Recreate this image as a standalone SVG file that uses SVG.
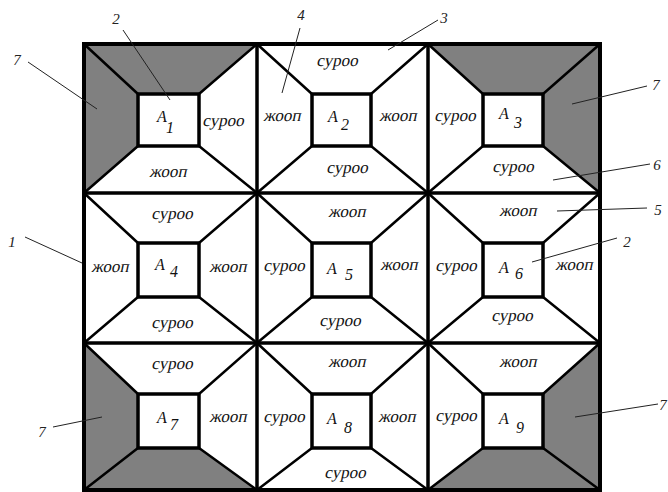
<svg xmlns="http://www.w3.org/2000/svg" width="668" height="492" viewBox="0 0 668 492">
<style>
.g{fill:#808080;stroke:none}
.d{stroke:#000;stroke-width:2.5;fill:none}
.sq{fill:#fff;stroke:#000;stroke-width:3.5}
.grid{stroke:#000;stroke-width:3.5;fill:none}
.out{stroke:#000;stroke-width:4;fill:none}
.lead{stroke:#222;stroke-width:1;fill:none}
.w{font-family:'Liberation Serif','DejaVu Serif',serif;font-size:17px;text-anchor:middle;fill:#111}
.a{font-family:'Liberation Serif','DejaVu Serif',serif;font-style:italic;font-size:16px;fill:#111}
.n{font-family:'Liberation Serif','DejaVu Serif',serif;font-style:italic;font-size:15px;text-anchor:middle;fill:#222}
</style>
<rect width="668" height="492" fill="#fff"/>

<g id="cell1">
<polygon class="g" points="84,44 257,44 199,94 138,94"/>
<polygon class="g" points="84,44 138,94 138,146 84,193"/>
<path class="d" d="M84,44L138,94M257,44L199,94M257,193L199,146M84,193L138,146"/>
<rect class="sq" x="138" y="94" width="61" height="52"/>
<text class="a" x="157" y="122">A</text><text class="a" x="166" y="133">1</text>
<text class="w" transform="translate(223,126) skewX(-12)">суроо</text>
<text class="w" transform="translate(168,177) skewX(-12)">жооп</text>
</g>

<g id="cell2">
<path class="d" d="M257,44L312,94M428,44L371,94M428,193L371,146M257,193L312,146"/>
<rect class="sq" x="312" y="94" width="59" height="52"/>
<text class="a" x="328" y="122">A</text><text class="a" x="341" y="130">2</text>
<text class="w" transform="translate(337,66) skewX(-12)">суроо</text>
<text class="w" transform="translate(282,121) skewX(-12)">жооп</text>
<text class="w" transform="translate(398,121) skewX(-12)">жооп</text>
<text class="w" transform="translate(347,173) skewX(-12)">суроо</text>
</g>

<g id="cell3">
<polygon class="g" points="428,44 600,44 543,94 483,94"/>
<polygon class="g" points="600,44 543,94 543,146 600,193"/>
<path class="d" d="M428,44L483,94M600,44L543,94M600,193L543,146M428,193L483,146"/>
<rect class="sq" x="483" y="94" width="60" height="52"/>
<text class="a" x="499" y="119">A</text><text class="a" x="514" y="128">3</text>
<text class="w" transform="translate(455,121) skewX(-12)">суроо</text>
<text class="w" transform="translate(513,172) skewX(-12)">суроо</text>
</g>

<g id="cell4">
<path class="d" d="M84,193L138,243M257,193L199,243M257,343L199,297M84,343L138,297"/>
<rect class="sq" x="138" y="243" width="61" height="54"/>
<text class="a" x="155" y="270">A</text><text class="a" x="170" y="277">4</text>
<text class="w" transform="translate(172,219) skewX(-12)">суроо</text>
<text class="w" transform="translate(110,272) skewX(-12)">жооп</text>
<text class="w" transform="translate(228,272) skewX(-12)">жооп</text>
<text class="w" transform="translate(172,328) skewX(-12)">суроо</text>
</g>

<g id="cell5">
<path class="d" d="M257,193L312,243M428,193L371,243M428,343L371,297M257,343L312,297"/>
<rect class="sq" x="312" y="243" width="59" height="54"/>
<text class="a" x="327" y="274">A</text><text class="a" x="345" y="280">5</text>
<text class="w" transform="translate(347,217) skewX(-12)">жооп</text>
<text class="w" transform="translate(284,271) skewX(-12)">суроо</text>
<text class="w" transform="translate(399,270) skewX(-12)">жооп</text>
<text class="w" transform="translate(340,326) skewX(-12)">суроо</text>
</g>

<g id="cell6">
<path class="d" d="M428,193L483,243M600,193L543,243M600,343L543,297M428,343L483,297"/>
<rect class="sq" x="483" y="243" width="60" height="54"/>
<text class="a" x="499" y="273">A</text><text class="a" x="515" y="279">6</text>
<text class="w" transform="translate(518,216) skewX(-12)">жооп</text>
<text class="w" transform="translate(456,271) skewX(-12)">суроо</text>
<text class="w" transform="translate(574,270) skewX(-12)">жооп</text>
<text class="w" transform="translate(512,321) skewX(-12)">суроо</text>
</g>

<g id="cell7">
<polygon class="g" points="84,343 138,394 138,448 84,490"/>
<polygon class="g" points="84,490 138,448 199,448 257,490"/>
<path class="d" d="M84,343L138,394M257,343L199,394M257,490L199,448M84,490L138,448"/>
<rect class="sq" x="138" y="394" width="61" height="54"/>
<text class="a" x="157" y="423">A</text><text class="a" x="170" y="430">7</text>
<text class="w" transform="translate(172,369) skewX(-12)">суроо</text>
<text class="w" transform="translate(228,422) skewX(-12)">жооп</text>
</g>

<g id="cell8">
<path class="d" d="M257,343L312,394M428,343L371,394M428,490L371,448M257,490L312,448"/>
<rect class="sq" x="312" y="394" width="59" height="54"/>
<text class="a" x="327" y="424">A</text><text class="a" x="344" y="433">8</text>
<text class="w" transform="translate(347,367) skewX(-12)">жооп</text>
<text class="w" transform="translate(284,422) skewX(-12)">суроо</text>
<text class="w" transform="translate(397,422) skewX(-12)">жооп</text>
<text class="w" transform="translate(345,478) skewX(-12)">суроо</text>
</g>

<g id="cell9">
<polygon class="g" points="600,343 543,394 543,448 600,490"/>
<polygon class="g" points="428,490 483,448 543,448 600,490"/>
<path class="d" d="M428,343L483,394M600,343L543,394M600,490L543,448M428,490L483,448"/>
<rect class="sq" x="483" y="394" width="60" height="54"/>
<text class="a" x="499" y="424">A</text><text class="a" x="516" y="433">9</text>
<text class="w" transform="translate(518,367) skewX(-12)">жооп</text>
<text class="w" transform="translate(456,421) skewX(-12)">суроо</text>
</g>

<g id="grid">
<path class="grid" d="M257,44V490M428,44V490M84,193H600M84,343H600"/>
<rect class="out" x="84" y="44" width="516" height="446"/>
</g>

<g id="connectors">
<path class="lead" d="M123,30L170,100"/>
<path class="lead" d="M28,62L97,109"/>
<path class="lead" d="M300,28L282,93"/>
<path class="lead" d="M438,20L388,50"/>
<path class="lead" d="M647,86L572,104"/>
<path class="lead" d="M650,164L553,180"/>
<path class="lead" d="M647,208L557,211"/>
<path class="lead" d="M617,238L532,262"/>
<path class="lead" d="M25,237L82,263"/>
<path class="lead" d="M53,427L102,417"/>
<path class="lead" d="M658,404L575,417"/>
</g>

<g id="callouts">
<text class="n" x="116" y="24">2</text>
<text class="n" x="17" y="65">7</text>
<text class="n" x="301" y="20">4</text>
<text class="n" x="444" y="23">3</text>
<text class="n" x="656" y="90">7</text>
<text class="n" x="657" y="170">6</text>
<text class="n" x="658" y="215">5</text>
<text class="n" x="627" y="247">2</text>
<text class="n" x="12" y="247">1</text>
<text class="n" x="42" y="437">7</text>
<text class="n" x="663" y="410">7</text>
</g>
</svg>
